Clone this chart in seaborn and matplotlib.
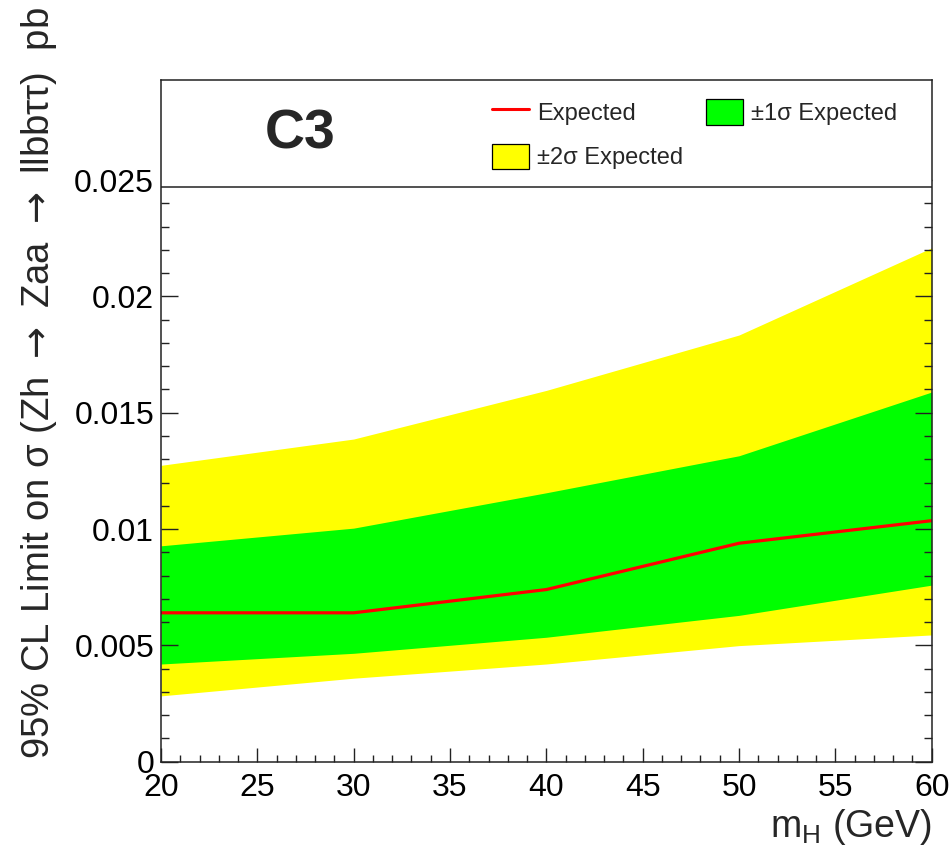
import numpy as np
import pandas as pd
import matplotlib
matplotlib.use("Agg")
import matplotlib.pyplot as plt
import seaborn as sns
from matplotlib.ticker import FixedLocator, MultipleLocator, FuncFormatter
from matplotlib.patches import Patch, Rectangle
from matplotlib.lines import Line2D

# Expected 95% CL limits vs. pseudoscalar mass (pb)
mass = [20, 30, 40, 50, 60]
expected = [0.00640, 0.00640, 0.00740, 0.00939, 0.01036]
band1_lo = [0.00420, 0.00466, 0.00535, 0.00629, 0.00759]
band1_hi = [0.00928, 0.01004, 0.01156, 0.01315, 0.01589]
band2_lo = [0.00283, 0.00359, 0.00420, 0.00499, 0.00545]
band2_hi = [0.01274, 0.01387, 0.01596, 0.01834, 0.02209]

y_major = [0, 0.005, 0.01, 0.015, 0.02, 0.025]
x_major = [20, 25, 30, 35, 40, 45, 50, 55, 60]
legend_labels = ["Expected", "±2σ Expected", "±1σ Expected"]

sns.set_theme(style="ticks")
FONT = ["Liberation Sans", "DejaVu Sans"]
plt.rcParams["font.family"] = FONT
plt.rcParams["mathtext.fontset"] = "dejavusans"
plt.rcParams["axes.axisbelow"] = False

fig = plt.figure(figsize=(9.51, 8.55), dpi=100)
ax = fig.add_axes([0.1693, 0.1091, 0.8104, 0.7973])

ax.fill_between(mass, band2_lo, band2_hi, color="#ffff00", lw=0, zorder=1)
ax.fill_between(mass, band1_lo, band1_hi, color="#00ff00", lw=0, zorder=1.5)
df = pd.DataFrame({"mass": mass, "expected": expected})
sns.lineplot(data=df, x="mass", y="expected", color="#ff0000", lw=2.3, ax=ax, zorder=2)

ax.set_xlim(20, 60)
ax.set_ylim(0, 0.0293)

# header panel holding the label and legend
ax.add_patch(Rectangle((0, 0.0247), 1, 0.01, transform=ax.get_yaxis_transform(),
                       facecolor="white", edgecolor="none", zorder=4))
ax.axhline(0.0247, color="#222222", lw=1.1, zorder=5)

ax.xaxis.set_major_locator(FixedLocator(x_major))
ax.xaxis.set_minor_locator(MultipleLocator(1))
ax.yaxis.set_major_locator(FixedLocator(y_major))
ax.yaxis.set_minor_locator(FixedLocator(np.arange(1, 25) * 0.001))
ax.yaxis.set_major_formatter(FuncFormatter(lambda v, p: "0" if v == 0 else f"{v:g}"))

ax.tick_params(which="both", direction="in", right=True, top=False,
               labelsize=23, color="#222222", width=1.0, labelcolor="black")
ax.tick_params(axis="y", which="major", length=12, pad=5)
ax.tick_params(axis="y", which="minor", length=6)
ax.tick_params(axis="x", which="major", length=10, pad=8)
ax.tick_params(axis="x", which="minor", length=5)
for s in ax.spines.values():
    s.set_color("#222222")
    s.set_linewidth(1.1)
    s.set_zorder(6)

ax.set_xlabel("m$_\\mathregular{H}$ (GeV)", fontsize=27, ha="right")
ax.xaxis.set_label_coords(1.0, -0.066)
ax.set_ylabel("")
fig.text(0.0415, 0.9918,
         "95% CL Limit on σ (Zh $\\rightarrow$ Zaa $\\rightarrow$ llbbττ)  pb",
         rotation=90, ha="center", va="top", fontsize=27.5)

fig.text(0.3155, 1 - 148.3 / 855, "C3", fontsize=40, fontweight="bold",
         ha="center", va="baseline")

handles = [
    Line2D([], [], color="#ff0000", lw=2.2),
    Patch(facecolor="#ffff00", edgecolor="black", lw=0.9),
    Patch(facecolor="#00ff00", edgecolor="black", lw=0.9),
]
fig.legend(handles, legend_labels, ncol=2, loc="upper left",
           bbox_to_anchor=(491.7 / 951, 1 - 99 / 855), frameon=False,
           fontsize=17, handlelength=1.6, handleheight=1.3,
           labelspacing=0.8, columnspacing=0.96, handletextpad=0.31,
           borderaxespad=0, borderpad=0)

fig.savefig("out.png", dpi=100)
